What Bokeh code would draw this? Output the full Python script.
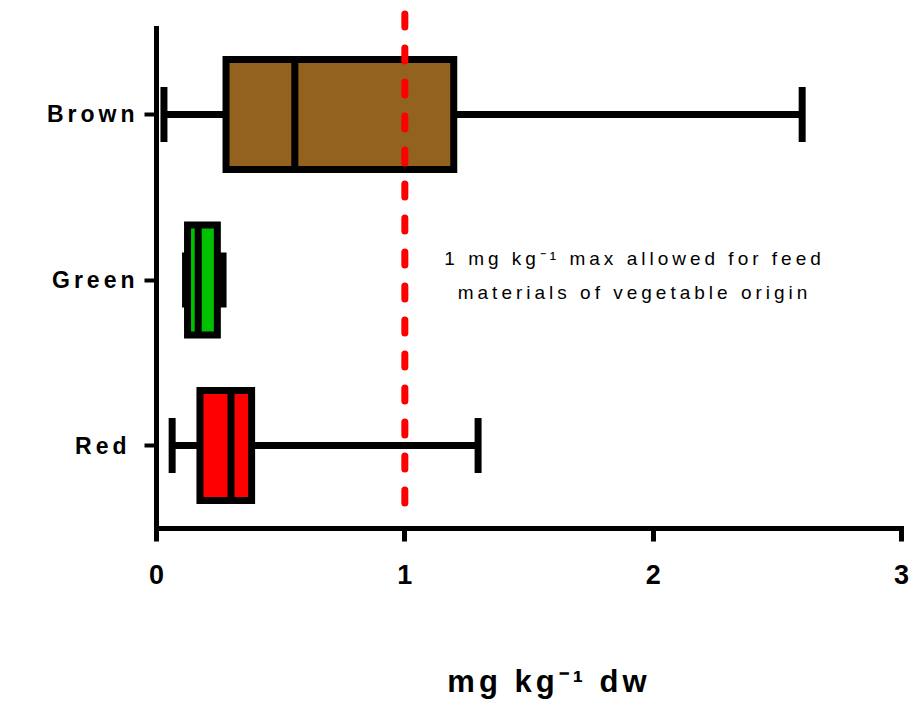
from bokeh.plotting import figure
from bokeh.models import Range1d, FixedTicker, Label, ColumnDataSource, InlineStyleSheet
from bokeh.embed import file_html
from bokeh.resources import INLINE

# ---------------- data ----------------
categories = ["Red", "Green", "Brown"]
whisker_low = [0.063, 0.117, 0.030]
q1 = [0.175, 0.125, 0.280]
median = [0.300, 0.168, 0.557]
q3 = [0.383, 0.245, 1.197]
whisker_high = [1.295, 0.268, 2.600]
box_colors = ["#FF0000", "#00C000", "#94621F"]
limit_value = 1.0
x_ticks = [0, 1, 2, 3]
annotation_lines = ["1 mg kg\u207b\u00b9 max allowed for feed", "materials of vegetable origin"]
x_label = "mg kg\u207b\u00b9 dw"

# ---------------- layout constants ----------------
FONT = "Liberation Sans"
LS = 4  # letter spacing, px
BOX_HALF = 0.332
CAP_HALF = 0.166
LW = 7
positions = [i + 1 for i in range(len(categories))]
y_start, y_end = 0.4985, 3.6586

src = ColumnDataSource(dict(
    y=positions, low=whisker_low, q1=q1, med=median, q3=q3, high=whisker_high,
    color=box_colors,
    top=[v + BOX_HALF for v in positions], bottom=[v - BOX_HALF for v in positions],
    ctop=[v + CAP_HALF for v in positions], cbot=[v - CAP_HALF for v in positions],
))

p = figure(width=922, height=702, output_backend="svg", toolbar_location=None,
           x_range=Range1d(0, 3), y_range=Range1d(y_start, y_end),
           min_border_left=156, min_border_right=21, min_border_top=5, min_border_bottom=174)
p.stylesheets = [InlineStyleSheet(css=":host { letter-spacing: %dpx; }" % LS)]
p.grid.visible = False
p.outline_line_color = None
p.background_fill_color = "white"
p.border_fill_color = "white"

# whiskers
p.segment(x0="low", x1="q1", y0="y", y1="y", source=src, line_color="black", line_width=LW)
p.segment(x0="q3", x1="high", y0="y", y1="y", source=src, line_color="black", line_width=LW)
# caps
p.segment(x0="low", x1="low", y0="cbot", y1="ctop", source=src, line_color="black", line_width=LW)
p.segment(x0="high", x1="high", y0="cbot", y1="ctop", source=src, line_color="black", line_width=LW)
# boxes
p.quad(left="q1", right="q3", bottom="bottom", top="top", source=src,
       fill_color="color", line_color="black", line_width=LW, line_join="miter")
# medians
p.segment(x0="med", x1="med", y0="bottom", y1="top", source=src, line_color="black", line_width=LW)

# limit line
p.segment(x0=[limit_value], x1=[limit_value], y0=[3.607], y1=[0.619],
          line_color="#FF0000", line_width=7, line_dash="13 21", line_cap="round")

# annotation (x_offset compensates the extra letter spacing of centred text)
for txt, yy in zip(annotation_lines, [2.13, 1.924]):
    p.add_layout(Label(x=1.925, y=yy, text=txt, text_align="center", text_baseline="middle",
                       x_offset=-LS * len(txt) / 2,
                       text_font=FONT, text_font_size="19px", text_color="black"))

# x axis
xa = p.xaxis[0]
xa.ticker = FixedTicker(ticks=x_ticks)
xa.axis_line_width = 5
xa.axis_line_cap = "square"
xa.major_tick_line_width = 5
xa.major_tick_out = 13
xa.major_tick_in = 0
xa.minor_tick_line_color = None
xa.major_label_text_font = FONT
xa.major_label_text_font_style = "bold"
xa.major_label_text_font_size = "27px"
xa.major_label_text_color = "black"
xa.major_label_standoff = 23
xa.axis_label = x_label
xa.axis_label_text_font = FONT
xa.axis_label_text_font_style = "bold"
xa.axis_label_text_font_size = "31px"
xa.axis_label_text_color = "black"
xa.axis_label_standoff = 77

# y axis
ya = p.yaxis[0]
ya.ticker = FixedTicker(ticks=positions)
ya.major_label_overrides = {pos: c for pos, c in zip(positions, categories)}
ya.bounds = (y_start, 3.52)
ya.axis_line_width = 5
ya.axis_line_cap = "square"
ya.major_tick_line_width = 4
ya.major_tick_out = 12
ya.major_tick_in = 0
ya.minor_tick_line_color = None
ya.major_label_text_font = FONT
ya.major_label_text_font_style = "bold"
ya.major_label_text_font_size = "23px"
ya.major_label_text_color = "black"
ya.major_label_standoff = 26

open("out.html", "w").write(file_html(p, INLINE))
